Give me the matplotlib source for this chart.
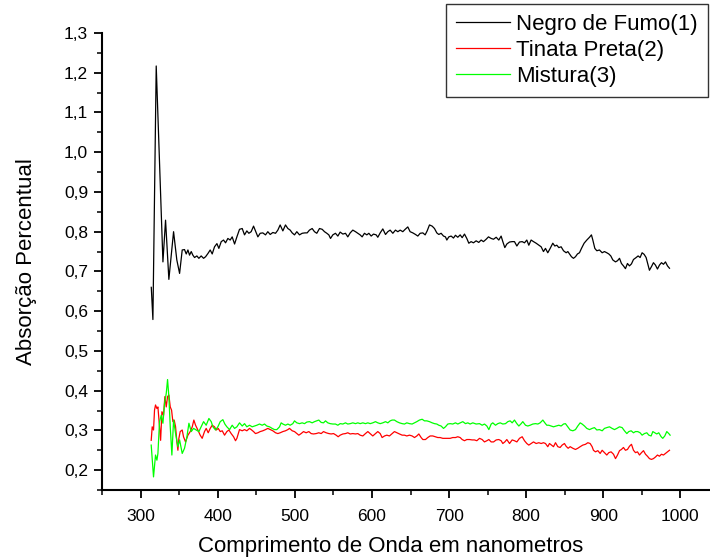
import matplotlib
matplotlib.use('Agg')
import matplotlib.pyplot as plt
from matplotlib.ticker import MultipleLocator

plt.rcParams['font.family'] = ['Liberation Sans', 'DejaVu Sans']

# ── dados ──
negro_x = [313.9, 316.0, 320.3, 329.0, 332.4, 336.7, 342.8, 347.0, 350.6, 354.0,
           357.0, 359.2, 361.4, 363.5, 365.7, 367.8, 370.0, 373.0, 375.6, 378.6,
           381.7, 384.3, 387.3, 390.3, 392.9, 395.9, 399.0, 401.5, 404.6, 407.6,
           410.2, 413.2, 416.2, 418.8, 421.9, 424.9,
           428.3, 431.8, 434.8, 437.8, 440.4, 443.4, 446.5, 449.0, 452.1, 455.1,
           458.5, 462.0, 465.0, 468.1, 471.5, 475.0, 478.0, 481.0, 484.5, 487.9,
           491.0, 494.0, 496.6, 499.6, 502.6, 506.1, 509.5, 513.0, 516.0, 519.0,
           522.5, 525.5, 528.5, 532.0, 535.5, 538.5, 541.5, 544.1, 546.3, 549.3,
           552.7, 555.8, 558.8, 562.3, 565.7, 568.7, 571.8, 575.2, 578.7, 581.7,
           584.7, 587.3, 590.3, 593.4, 596.0, 599.0, 602.0, 605.5, 607.6, 610.7,
           614.1, 617.6, 620.6, 623.6, 627.1, 630.5, 633.6, 636.6, 640.0, 643.1,
           646.5, 649.5, 653.0, 656.5, 659.5, 662.5, 666.0, 669.0, 671.6, 674.6,
           678.1, 681.1, 684.1, 686.7, 689.7, 692.8, 695.3, 697.1, 699.7, 702.7,
           705.7, 708.3, 711.3, 714.4, 717.0, 720.0, 723.0, 725.6, 728.6, 731.6,
           735.1, 738.5,
           741.6, 744.6, 748.1, 751.1, 754.6, 757.6, 761.1, 764.5, 767.5, 769.7,
           772.3, 774.9, 778.4, 781.8, 784.8, 787.9, 791.3, 794.8, 797.8, 800.8,
           803.4, 806.4, 809.5, 812.9, 816.4, 819.4, 822.4, 825.0, 828.0, 831.1,
           834.5, 837.1, 839.7, 842.3, 845.3, 848.4, 851.8, 854.0, 856.1, 858.7,
           861.3, 863.9, 866.5, 869.1, 871.7, 875.1, 878.6, 882.1, 884.6, 886.4,
           889.0, 891.6, 895.0, 898.5, 901.5, 904.5, 907.1, 909.7, 912.3, 915.8,
           918.4, 921.0, 923.5, 926.1, 928.7, 931.3, 933.9, 936.5, 939.1, 942.6,
           945.1, 947.7, 950.3, 952.9, 955.5, 958.1, 959.8, 962.4, 965.0, 967.6,
           970.2, 972.8, 975.4, 978.0, 980.6, 983.2, 985.8]
negro_y = [0.660, 0.579, 1.217, 0.724, 0.829, 0.680, 0.800, 0.729, 0.695, 0.754,
           0.755, 0.744, 0.754, 0.741, 0.750, 0.741, 0.735, 0.739, 0.733, 0.739,
           0.733, 0.737, 0.745, 0.754, 0.744, 0.762, 0.770, 0.758, 0.775, 0.779,
           0.772, 0.783, 0.779, 0.787, 0.769, 0.787,
           0.806, 0.808, 0.792, 0.802, 0.796, 0.800, 0.814, 0.802, 0.787, 0.796,
           0.797, 0.792, 0.800, 0.793, 0.798, 0.796, 0.804, 0.817, 0.802, 0.817,
           0.808, 0.804, 0.797, 0.792, 0.800, 0.792, 0.796, 0.797, 0.797, 0.804,
           0.808, 0.800, 0.796, 0.808, 0.806, 0.800, 0.796, 0.792, 0.783, 0.792,
           0.796, 0.789, 0.799, 0.794, 0.796, 0.787, 0.797, 0.804, 0.800, 0.796,
           0.792, 0.787, 0.796, 0.792, 0.796, 0.789, 0.794, 0.792, 0.786, 0.797,
           0.807, 0.793, 0.800, 0.804, 0.796, 0.804, 0.800, 0.804, 0.800, 0.806,
           0.812, 0.800, 0.797, 0.793, 0.789, 0.796, 0.797, 0.792, 0.802, 0.817,
           0.814, 0.808, 0.797, 0.793, 0.796, 0.789, 0.787, 0.779, 0.787, 0.789,
           0.784, 0.791, 0.786, 0.792, 0.785, 0.794, 0.783, 0.771, 0.775, 0.772,
           0.777, 0.773,
           0.779, 0.775, 0.781, 0.787, 0.783, 0.781, 0.786, 0.779, 0.789, 0.775,
           0.760, 0.769, 0.774, 0.775, 0.775, 0.764, 0.774, 0.775, 0.772, 0.779,
           0.766, 0.779, 0.775, 0.771, 0.766, 0.762, 0.750, 0.758, 0.747, 0.758,
           0.771, 0.764, 0.766, 0.760, 0.762, 0.752, 0.747, 0.750, 0.744, 0.737,
           0.733, 0.737, 0.744, 0.747, 0.758, 0.771, 0.779, 0.786, 0.792, 0.779,
           0.758, 0.752, 0.754, 0.747, 0.750, 0.747, 0.744, 0.739, 0.729, 0.724,
           0.727, 0.733, 0.720, 0.714, 0.707, 0.720, 0.714, 0.719, 0.730, 0.735,
           0.739, 0.735, 0.747, 0.743, 0.735, 0.716, 0.703, 0.712, 0.722, 0.716,
           0.706, 0.716, 0.722, 0.718, 0.724, 0.714, 0.708]

tinta_x = [313.8, 315.1, 316.8, 318.1, 319.4, 321.2, 322.5, 324.6, 326.0, 327.7,
           329.8, 331.5, 333.3, 335.0, 336.7, 338.5, 340.2, 341.9, 343.6, 345.4,
           347.1, 348.4, 349.7, 351.4, 354.0, 355.7, 358.3, 361.4, 364.4, 367.0,
           369.1, 371.3, 374.3, 377.3, 379.9, 382.9, 385.1, 387.7, 390.3, 392.9,
           395.9, 398.1, 400.7, 403.3, 405.9, 408.9, 411.9, 414.5, 417.5, 420.6,
           423.1, 424.9,
           428.3, 431.8, 434.8, 437.8, 441.3, 443.4, 446.5, 449.0, 452.1, 455.1,
           458.5, 462.0, 465.0, 468.1, 471.5, 475.0, 478.0, 481.0, 484.5, 487.9,
           491.0, 493.1, 496.6, 499.6, 502.6, 505.2, 508.2, 511.3, 514.7, 518.2,
           521.2, 524.2, 527.7, 531.1, 534.2, 537.2, 540.6, 544.1, 547.1, 550.2,
           553.6, 556.2, 558.8, 562.3, 565.7, 568.7, 571.8, 575.2, 578.7, 581.7,
           584.7, 588.2, 591.6, 594.7, 597.7, 601.1, 604.6, 607.6, 610.7, 613.2,
           616.3, 619.3, 622.7, 626.2, 629.2, 632.3, 635.7, 639.2, 642.2, 645.2,
           648.7, 652.1, 655.2, 658.2, 660.8, 663.8, 666.0, 669.4, 672.4, 675.5,
           678.9, 682.4, 685.4, 688.4, 691.9, 695.3, 698.4, 701.4, 704.8, 708.3,
           711.3, 714.4, 717.0, 720.0, 723.0, 726.5, 729.9, 732.9, 736.0,
           739.5, 742.9, 745.9, 749.0, 751.6, 754.6, 757.7, 761.1, 764.5, 767.5,
           769.7, 772.3, 774.9, 778.4, 781.8, 784.8, 787.9, 791.3, 794.8, 797.8,
           800.8, 803.4, 806.4, 809.5, 812.9, 816.4, 819.4, 822.4, 825.0, 828.0,
           830.2, 832.8, 835.4, 838.0, 841.0, 844.0, 846.6, 849.6, 851.8, 854.4,
           857.0, 860.5, 863.9, 866.9, 870.0, 873.4, 876.9, 879.9, 882.9, 885.5,
           887.2, 889.8, 892.9, 895.9, 898.5, 901.5, 904.5, 907.1, 910.1, 913.2,
           915.8, 918.4, 921.0, 923.5, 926.1, 928.7, 931.3, 933.9, 936.5, 939.1,
           941.7, 944.3, 946.9, 949.5, 952.1, 954.7, 957.2, 959.8, 962.4, 965.0,
           967.6, 970.2, 972.8, 975.4, 978.0, 980.6, 983.2, 985.8]
tinta_y = [0.275, 0.309, 0.301, 0.351, 0.364, 0.355, 0.359, 0.309, 0.275, 0.347,
           0.338, 0.385, 0.359, 0.385, 0.389, 0.359, 0.351, 0.322, 0.326, 0.309,
           0.271, 0.250, 0.280, 0.297, 0.301, 0.284, 0.271, 0.288, 0.297, 0.309,
           0.326, 0.313, 0.301, 0.288, 0.280, 0.297, 0.305, 0.294, 0.305, 0.313,
           0.309, 0.301, 0.305, 0.297, 0.299, 0.288, 0.297, 0.301, 0.292, 0.284,
           0.274, 0.280,
           0.302, 0.299, 0.302, 0.299, 0.305, 0.302, 0.297, 0.292, 0.294, 0.297,
           0.299, 0.302, 0.305, 0.302, 0.299, 0.294, 0.292, 0.294, 0.297, 0.299,
           0.302, 0.305, 0.299, 0.297, 0.292, 0.288, 0.292, 0.297, 0.294, 0.297,
           0.292, 0.291, 0.292, 0.294, 0.292, 0.297, 0.294, 0.292, 0.291, 0.292,
           0.288, 0.284, 0.288, 0.291, 0.292, 0.294, 0.291, 0.292, 0.291, 0.292,
           0.288, 0.286, 0.292, 0.297, 0.292, 0.286, 0.292, 0.297, 0.292, 0.282,
           0.286, 0.288, 0.286, 0.292, 0.297, 0.294, 0.291, 0.288, 0.288, 0.286,
           0.288, 0.286, 0.282, 0.286, 0.291, 0.282, 0.277, 0.277, 0.282, 0.286,
           0.286, 0.284, 0.282, 0.282, 0.280, 0.280, 0.280, 0.280, 0.282, 0.282,
           0.284, 0.282, 0.277, 0.274, 0.277, 0.277, 0.276, 0.276, 0.274,
           0.280, 0.277, 0.271, 0.274, 0.277, 0.271, 0.271, 0.276, 0.277, 0.274,
           0.267, 0.271, 0.277, 0.267, 0.276, 0.274, 0.271, 0.280, 0.284, 0.274,
           0.267, 0.263, 0.267, 0.271, 0.267, 0.269, 0.267, 0.269, 0.267, 0.259,
           0.267, 0.263, 0.259, 0.269, 0.259, 0.257, 0.263, 0.267, 0.260, 0.255,
           0.259, 0.255, 0.252, 0.255, 0.259, 0.263, 0.265, 0.269, 0.267, 0.259,
           0.250, 0.246, 0.249, 0.242, 0.250, 0.244, 0.238, 0.244, 0.246, 0.240,
           0.229, 0.238, 0.249, 0.252, 0.257, 0.250, 0.252, 0.260, 0.265, 0.250,
           0.244, 0.246, 0.238, 0.244, 0.249, 0.240, 0.235, 0.229, 0.227, 0.229,
           0.233, 0.238, 0.235, 0.240, 0.238, 0.242, 0.246, 0.250]

mistura_x = [313.8, 316.8, 319.4, 321.2, 322.5, 324.6, 326.8, 329.0, 331.1, 333.3,
             335.0, 336.7, 338.5, 340.6, 342.8, 345.4, 348.4, 350.6, 354.0, 357.0,
             360.1, 362.7, 365.7, 368.7, 372.2, 375.6, 378.6, 381.7, 385.1, 388.6,
             391.6, 393.8, 397.2, 400.2, 403.3, 406.7, 409.3, 411.9, 415.4, 418.8,
             421.9, 424.9,
             428.3, 431.8, 434.8, 437.8, 441.3, 444.7, 447.7, 450.8, 454.2, 457.7,
             460.7, 463.7, 467.2, 470.6, 473.7, 476.7, 480.2, 482.3, 484.5, 487.9,
             491.0, 494.0, 497.4, 499.6, 502.6, 506.1, 509.5, 512.6, 515.6, 519.0,
             522.5, 525.5, 528.5, 531.1, 534.2, 537.2, 539.8, 542.8, 545.8, 549.3,
             552.7, 555.8, 558.8, 562.3, 565.7, 568.7, 571.8, 575.2, 578.7, 581.7,
             584.7, 588.2, 591.6, 594.7, 597.7, 601.1, 604.6, 607.6, 610.7, 614.1,
             617.6, 620.6, 623.6, 626.2, 629.2, 632.3, 635.7, 639.2, 642.2, 645.2,
             648.7, 652.1, 655.2, 658.2, 661.6, 665.1, 668.1, 671.2, 674.6, 678.1,
             681.1, 684.1, 686.7, 689.7, 692.8, 695.3, 698.4, 701.4, 704.8, 708.3,
             711.3, 714.4, 717.8, 721.3, 724.3, 727.3, 730.8, 735.1,
             739.5, 742.9, 745.9, 749.0, 751.6, 754.6, 756.7, 760.2, 763.2, 766.3,
             769.7, 773.2, 776.2, 779.2, 781.8, 784.8, 787.9, 790.5, 793.5, 795.6,
             799.1, 802.1, 805.1, 808.6, 812.1, 815.1, 818.1, 821.6, 824.2, 826.7,
             829.3, 832.4, 835.4, 838.8, 842.3, 845.3, 848.4, 850.9, 854.0, 857.0,
             860.5, 863.9, 866.9, 870.0, 872.5, 875.6, 878.6, 882.1, 885.5, 888.5,
             891.6, 895.0, 898.5, 901.5, 904.5, 908.0, 911.4, 914.5, 917.5, 921.0,
             924.4, 927.4, 930.5, 933.0, 936.1, 939.1, 941.7, 944.7, 947.7, 950.3,
             953.3, 956.4, 959.0, 962.0, 964.2, 966.7, 969.3, 971.9, 975.0, 977.1,
             979.7, 982.3, 984.9, 986.6]
mistura_y = [0.263, 0.183, 0.238, 0.225, 0.242, 0.322, 0.338, 0.318, 0.368, 0.393,
             0.428, 0.385, 0.309, 0.238, 0.326, 0.292, 0.259, 0.276, 0.242, 0.255,
             0.284, 0.318, 0.297, 0.305, 0.301, 0.297, 0.309, 0.322, 0.313, 0.330,
             0.322, 0.309, 0.301, 0.309, 0.322, 0.327, 0.316, 0.309, 0.302, 0.313,
             0.305, 0.309,
             0.319, 0.311, 0.317, 0.309, 0.313, 0.309, 0.311, 0.313, 0.316, 0.313,
             0.316, 0.311, 0.309, 0.305, 0.302, 0.302, 0.309, 0.319, 0.316, 0.313,
             0.316, 0.313, 0.317, 0.324, 0.319, 0.317, 0.319, 0.317, 0.321, 0.322,
             0.319, 0.322, 0.324, 0.326, 0.320, 0.319, 0.324, 0.319, 0.317, 0.316,
             0.316, 0.313, 0.317, 0.316, 0.319, 0.316, 0.317, 0.319, 0.317, 0.319,
             0.317, 0.319, 0.317, 0.319, 0.317, 0.319, 0.322, 0.319, 0.317, 0.319,
             0.322, 0.319, 0.324, 0.326, 0.326, 0.322, 0.319, 0.317, 0.316, 0.319,
             0.317, 0.316, 0.319, 0.322, 0.326, 0.328, 0.324, 0.324, 0.322, 0.319,
             0.317, 0.316, 0.313, 0.311, 0.305, 0.309, 0.316, 0.317, 0.316, 0.319,
             0.316, 0.319, 0.322, 0.317, 0.319, 0.316, 0.319, 0.316,
             0.317, 0.313, 0.316, 0.311, 0.302, 0.316, 0.319, 0.313, 0.317, 0.319,
             0.316, 0.317, 0.322, 0.324, 0.319, 0.326, 0.317, 0.311, 0.317, 0.322,
             0.313, 0.311, 0.313, 0.316, 0.317, 0.316, 0.319, 0.326, 0.319, 0.313,
             0.313, 0.311, 0.309, 0.311, 0.313, 0.311, 0.316, 0.317, 0.309, 0.301,
             0.299, 0.302, 0.311, 0.319, 0.316, 0.311, 0.305, 0.302, 0.305, 0.307,
             0.301, 0.302, 0.299, 0.305, 0.307, 0.309, 0.305, 0.302, 0.305, 0.309,
             0.307, 0.299, 0.292, 0.297, 0.299, 0.294, 0.297, 0.297, 0.294, 0.288,
             0.292, 0.294, 0.288, 0.286, 0.297, 0.294, 0.291, 0.294, 0.284, 0.280,
             0.286, 0.297, 0.292, 0.288]

series_labels = ['Negro de Fumo(1)', 'Tinata Preta(2)', 'Mistura(3)']
series_colors = ['black', '#ff0000', '#00ff00']

x_ticks = [300, 400, 500, 600, 700, 800, 900, 1000]
y_ticks = [0.2, 0.3, 0.4, 0.5, 0.6, 0.7, 0.8, 0.9, 1.0, 1.1, 1.2, 1.3]
y_tick_labels = ['0,2', '0,3', '0,4', '0,5', '0,6', '0,7', '0,8', '0,9',
                 '1,0', '1,1', '1,2', '1,3']

fig = plt.figure(figsize=(7.1, 5.6), dpi=100)
ax = fig.add_axes([102 / 710, 70 / 560, 617 / 710, 457 / 560])

for xs, ys, lab, col in zip([negro_x, tinta_x, mistura_x],
                            [negro_y, tinta_y, mistura_y],
                            series_labels, series_colors):
    ax.plot(xs, ys, color=col, lw=0.9, label=lab)

ax.set_xlim(250, 1050)
ax.set_ylim(0.15, 1.3)
ax.set_xticks(x_ticks)
ax.set_yticks(y_ticks)
ax.set_yticklabels(y_tick_labels)
ax.xaxis.set_minor_locator(MultipleLocator(50))
ax.yaxis.set_minor_locator(MultipleLocator(0.05))

for side in ['top', 'right']:
    ax.spines[side].set_visible(False)
for side in ['left', 'bottom']:
    ax.spines[side].set_linewidth(1.5)

ax.tick_params(which='major', direction='out', length=6, width=1.3, labelsize=12.5, pad=4)
ax.tick_params(axis='x', which='major', pad=8)
ax.tick_params(which='minor', direction='out', length=3.5, width=1.1)

ax.set_xlabel('Comprimento de Onda em nanometros', fontsize=16)
ax.set_ylabel('Absorção Percentual', fontsize=16)
# posição dos títulos dos eixos (em fração do eixo)
ax.xaxis.set_label_coords((391 - 102) / 617, -(536 - 490) / 457)
ax.yaxis.set_label_coords(-(102 - 37) / 617, 0.5)

leg = ax.legend(loc='upper right', bbox_to_anchor=(708 / 710, 1 - 4 / 560),
                bbox_transform=fig.transFigure, fontsize=16, frameon=True,
                fancybox=False, handlelength=2.4, handletextpad=0.3,
                labelspacing=0.22, borderpad=0.45, borderaxespad=0)
leg.get_frame().set_edgecolor('black')
leg.get_frame().set_linewidth(1.0)

fig.savefig('out.png', dpi=100)
